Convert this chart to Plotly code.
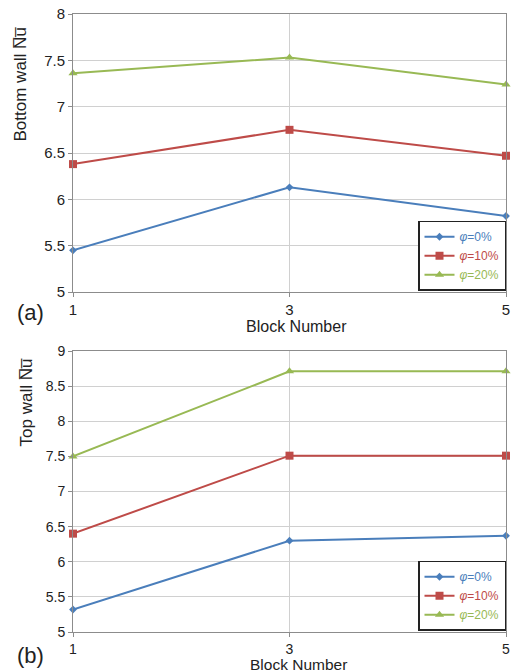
import plotly.graph_objects as go

blocks = [1, 3, 5]
bottom_phi0 = [5.45, 6.13, 5.82]
bottom_phi10 = [6.38, 6.75, 6.47]
bottom_phi20 = [7.36, 7.53, 7.24]
top_phi0 = [5.32, 6.30, 6.37]
top_phi10 = [6.40, 7.51, 7.51]
top_phi20 = [7.50, 8.71, 8.71]
phi_labels = ["0%", "10%", "20%"]
bottom_ticks = [5, 5.5, 6, 6.5, 7, 7.5, 8]
top_ticks = [5, 5.5, 6, 6.5, 7, 7.5, 8, 8.5, 9]

colors = ["#4a7ebb", "#be4b48", "#98b954"]
symbols = ["diamond", "square", "triangle-up"]
msizes = [6, 8, 8]

FONT = "Liberation Sans, Arial, sans-serif"
W, H = 515, 672
L, R, T, B = 73, 5, 14, 40
PW = W - L - R
PH = H - T - B

def px_x(p):
    return (p - L) / PW

def px_y(p):
    return (H - B - p) / PH

fig = go.Figure()

def legend_name(i):
    return '<span style="color:%s"><i>φ</i>=%s</span>' % (colors[i], phi_labels[i])

for i, ys in enumerate([bottom_phi0, bottom_phi10, bottom_phi20]):
    fig.add_trace(go.Scatter(x=blocks, y=ys, mode="lines+markers", name=legend_name(i),
                             line=dict(color=colors[i], width=2),
                             marker=dict(symbol=symbols[i], size=msizes[i], color=colors[i]),
                             xaxis="x", yaxis="y", legend="legend", cliponaxis=False))
for i, ys in enumerate([top_phi0, top_phi10, top_phi20]):
    fig.add_trace(go.Scatter(x=blocks, y=ys, mode="lines+markers", name=legend_name(i),
                             line=dict(color=colors[i], width=2),
                             marker=dict(symbol=symbols[i], size=msizes[i], color=colors[i]),
                             xaxis="x2", yaxis="y2", legend="legend2", cliponaxis=False))

def axis_common(fs):
    return dict(showline=True, linecolor="#8c8c8c", linewidth=1, mirror=True,
                gridcolor="#d0d0d0", gridwidth=1, ticks="outside", ticklen=4,
                tickcolor="#8c8c8c", tickfont=dict(family=FONT, size=fs, color="#222"),
                zeroline=False, ticklabeloverflow="allow")

Y_TOP_BOTTOM = px_y(292)
Y_BOT_TOP = px_y(351)

leg_common = dict(bgcolor="white", bordercolor="#222", borderwidth=1.5,
                  font=dict(family=FONT, size=12), itemwidth=30, tracegroupgap=0,
                  itemsizing="trace", x=1.0, xanchor="right", yanchor="bottom")

fig.update_layout(
    width=W, height=H,
    margin=dict(l=L, r=R, t=T, b=B),
    paper_bgcolor="white", plot_bgcolor="white",
    font=dict(family=FONT, color="#222"),
    xaxis=dict(axis_common(15), domain=[0, 1], range=[1, 5], tickvals=blocks, anchor="y"),
    yaxis=dict(axis_common(15), domain=[Y_TOP_BOTTOM, 1], range=[5, 8],
               tickvals=bottom_ticks, ticktext=[f"{v:g}" for v in bottom_ticks], anchor="x"),
    xaxis2=dict(axis_common(14), domain=[0, 1], range=[1, 5], tickvals=blocks, anchor="y2"),
    yaxis2=dict(axis_common(14), domain=[0, Y_BOT_TOP], range=[5, 9],
                tickvals=top_ticks, ticktext=[f"{v:g}" for v in top_ticks], anchor="x2"),
    legend=dict(leg_common, y=Y_TOP_BOTTOM + 0.002),
    legend2=dict(leg_common, y=0.002),
    showlegend=True,
)

def add_text(text, x, y, size, angle=0):
    fig.add_annotation(text=text, textangle=angle, xref="paper", yref="paper",
                       x=px_x(x), y=px_y(y), xanchor="center", yanchor="middle",
                       showarrow=False, font=dict(family=FONT, size=size, color="#222"))

add_text("Bottom wall N\u0305u\u0305", 21, 84, 17, -90)
add_text("Top wall N\u0305u\u0305", 26, 402, 17, -90)
add_text("Block Number", 299, 326, 16)
add_text("Block Number", 301, 664, 15.5)
add_text("(a)", 30, 312, 22)
add_text("(b)", 30, 655, 22)

fig.write_html("out.html", config={"displayModeBar": False},
               post_script="document.body.style.margin='0';document.body.style.overflow='hidden';")
